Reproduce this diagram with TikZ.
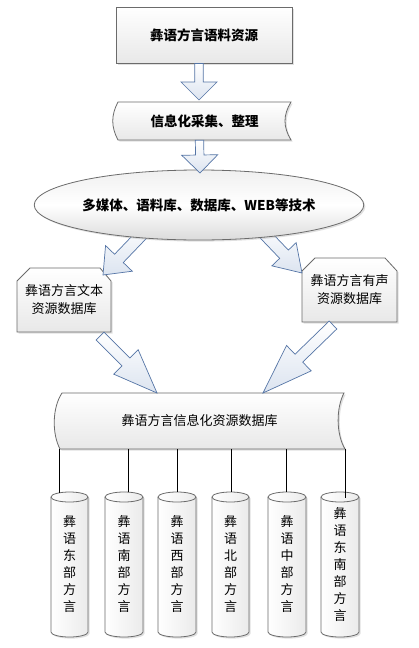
\documentclass[tikz,border=0pt]{standalone}
\usepackage{fontspec}
\setmainfont{Noto Sans CJK SC}
\usetikzlibrary{calc,shadows,shapes.geometric}
\definecolor{edge}{HTML}{6B6B6B}
\definecolor{aedge}{HTML}{5575A6}
\definecolor{afill}{HTML}{DCE4F0}
\tikzset{
 boxshade/.style={draw=edge, line width=0.8pt, top color=white, bottom color=black!9,
   drop shadow={shadow xshift=1.6pt, shadow yshift=-1.6pt, fill=black!30, opacity=0.4}},
 cylshade/.style={draw=edge, line width=0.8pt, left color=white, right color=black!8,
   drop shadow={shadow xshift=1.6pt, shadow yshift=-1.6pt, fill=black!30, opacity=0.4}},
 arrowshade/.style={draw=aedge, line width=0.7pt, top color=white, bottom color=afill, line join=miter},
 boldlbl/.style={font=\fontsize{13.5}{16}\selectfont\bfseries, inner sep=0pt},
 lbl/.style={font=\fontsize{13}{18}\selectfont, align=center, inner sep=0pt},
 vlbl/.style={font=\fontsize{13}{17}\selectfont, align=center, inner sep=0pt},
 link/.style={draw=black, line width=0.8pt}
}
\newcommand\blockarrow[5]{%
 \coordinate (bsS) at (#1); \coordinate (bsT) at (#2);
 \coordinate (bsH) at ($(bsT)!#5!(bsS)$);
 \path[arrowshade] ($(bsS)!#3!90:(bsT)$) -- ($(bsH)!#3!90:(bsT)$) -- ($(bsH)!#4!90:(bsT)$) -- (bsT)
   -- ($(bsH)!#4!-90:(bsT)$) -- ($(bsH)!#3!-90:(bsT)$) -- ($(bsS)!#3!-90:(bsT)$) -- cycle;}
\newcommand\cylinderdb[4]{% name, left, right, text
 \pgfmathsetmacro\cylrx{(#3-#2)/2}
 \pgfmathsetmacro\cylcx{(#3+#2)/2}
 \path[cylshade] (#2,497) -- (#2,632) arc[start angle=180, end angle=0, x radius=\cylrx, y radius=5]
   -- (#3,497) arc[start angle=0, end angle=-180, x radius=\cylrx, y radius=5] -- cycle;
 \draw[draw=edge, line width=0.8pt] (#2,497) arc[start angle=180, end angle=0, x radius=\cylrx, y radius=5];
 \node[vlbl] (#1) at (\cylcx,564.5) {#4};}
\begin{document}
\begin{tikzpicture}[x=1pt,y=-1pt]
\fill[white] (0,0) rectangle (419,648);
\useasboundingbox (0,0) rectangle (419,648);

% source box
\node[boxshade, minimum width=176pt, minimum height=56pt, boldlbl] (src) at (204,35) {彝语方言语料资源};

% collection tape
\path[boxshade] (118,102) -- (291,102) .. controls (283,115) and (283,127) .. (291,140)
  -- (118,140) .. controls (111,127) and (111,115) .. (118,102) -- cycle;
\node[boldlbl, minimum width=173pt, minimum height=38pt] (collect) at (204.5,121) {信息化采集、整理};

% side boxes
\path[boxshade] (30,268) -- (100,268) -- (111,281) -- (111,332) -- (17,332) -- (17,281) -- cycle;
\node[lbl, minimum width=94pt, minimum height=64pt] (txt) at (64,300) {彝语方言文本\\资源数据库};
\path[boxshade] (315,258) -- (385,258) -- (397,271) -- (397,322) -- (302,322) -- (302,271) -- cycle;
\node[lbl, minimum width=95pt, minimum height=64pt] (aud) at (349.5,290) {彝语方言有声\\资源数据库};

% diagonal arrows from technology ellipse
\coordinate (a3s) at (150,226); \coordinate (a3t) at (103,275);
\coordinate (a4s) at (257,226); \coordinate (a4t) at (302,273);
\blockarrow{a3s}{a3t}{6pt}{18.5pt}{23pt}
\blockarrow{a4s}{a4t}{6pt}{16.8pt}{26pt}

% technology ellipse
\node[ellipse, draw=edge, line width=0.8pt, top color=black!6, bottom color=black!14, middle color=white,
  drop shadow={shadow xshift=1.6pt, shadow yshift=-1.6pt, fill=black!30, opacity=0.4},
  minimum width=324pt, minimum height=70pt, boldlbl] (tech) at (199,205)
  {多媒体、语料库、数据库、WEB等技术};

% vertical arrows
\coordinate (a1s) at ($(src.south)+(-5,0)$); \coordinate (a1t) at (199,100);
\coordinate (a2s) at ($(collect.south)+(-5,0)$); \coordinate (a2t) at (200,173);
\blockarrow{a1s}{a1t}{4.2pt}{18pt}{18pt}
\blockarrow{a2s}{a2t}{4.2pt}{18pt}{18pt}

% information database
\path[boxshade] (62,393) -- (344,393) .. controls (336,408) and (336,434) .. (345,449)
  -- (60,449) .. controls (52,434) and (52,408) .. (62,393) -- cycle;
\node[lbl, minimum width=289pt, minimum height=56pt] (db) at (199.5,421) {彝语方言信息化资源数据库};

% arrows into database
\coordinate (a5s) at (100,336); \coordinate (a5t) at (157,393);
\coordinate (a6s) at (333,325); \coordinate (a6t) at (263,393);
\blockarrow{a5s}{a5t}{5.5pt}{17.3pt}{44pt}
\blockarrow{a6s}{a6t}{5.5pt}{17.7pt}{50pt}

% cylinders
\cylinderdb{c1}{51}{88}{彝\\语\\东\\部\\方\\言}
\cylinderdb{c2}{105}{143}{彝\\语\\南\\部\\方\\言}
\cylinderdb{c3}{158}{196}{彝\\语\\西\\部\\方\\言}
\cylinderdb{c4}{212}{249}{彝\\语\\北\\部\\方\\言}
\cylinderdb{c5}{268}{306}{彝\\语\\中\\部\\方\\言}
\cylinderdb{c6}{321}{359}{彝\\语\\东\\南\\部\\方\\言}

% links
\coordinate (t1) at (59,493);
\coordinate (t2) at (128,492);
\coordinate (t3) at (177,492);
\coordinate (t4) at (231,492);
\coordinate (t5) at (286,492);
\coordinate (t6) at (345,498);
\foreach \t in {t1,t2,t3,t4,t5,t6}
  \draw[link] (db.south -| \t) -- (\t);
\end{tikzpicture}
\end{document}
